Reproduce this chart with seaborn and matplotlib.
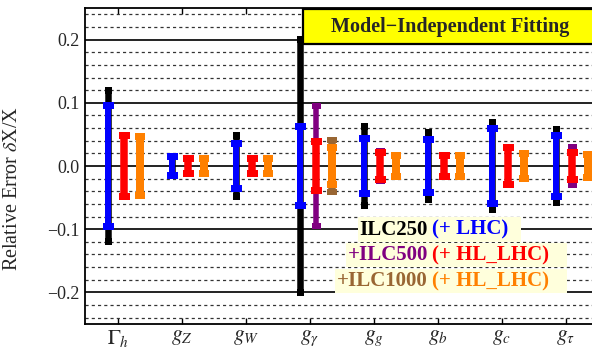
import numpy as np
import pandas as pd
import seaborn as sns
import matplotlib
matplotlib.use("Agg")
import matplotlib.pyplot as plt
from matplotlib.patches import Rectangle
from matplotlib.path import Path

# couplings on the x axis
params = [r"$\Gamma_h$", r"$g_Z$", r"$g_W$", r"$g_\gamma$",
          r"$g_g$", r"$g_b$", r"$g_c$", r"$g_\tau$"]

# relative errors (symmetric)
ilc250 = [0.119, 0.015, 0.049, 0.200, 0.063, 0.053, 0.069, 0.058]
ilc250_lhc = [0.095, 0.015, 0.036, 0.062, 0.044, 0.042, 0.059, 0.048]
ilc500 = [0.049, 0.012, 0.012, 0.095, 0.024, 0.017, 0.029, 0.029]
ilc500_hllhc = [0.049, 0.012, 0.012, 0.038, 0.022, 0.017, 0.029, 0.022]
ilc1000 = [0.047, 0.012, 0.012, 0.041, 0.017, 0.016, 0.020, 0.018]
ilc1000_hllhc = [0.047, 0.012, 0.012, 0.030, 0.017, 0.016, 0.020, 0.018]

yticks = [-0.2, -0.1, 0.0, 0.1, 0.2]
ytick_labels = ["\u22120.2", "\u22120.1", "0.0", "0.1", "0.2"]

title = "Model\u2212Independent Fitting"
legend_left = ["ILC250", "+ILC500", "+ILC1000"]
legend_right = ["(+ LHC)  ", "(+ HL_LHC)   ", "(+ HL_LHC)   "]

BLACK = "black"
BLUE = "#0000ff"
PURPLE = "#800080"
RED = "#ff0000"
BROWN = "#996633"
ORANGE = "#ff8000"

sns.set_theme(style="white")
plt.rcParams["font.family"] = ["Liberation Serif", "DejaVu Serif"]
plt.rcParams["mathtext.fontset"] = "stix"

fig = plt.figure(figsize=(5.92, 3.51), dpi=100)
ax = fig.add_axes([0.1436, 0.0769, 0.8666, 0.9003])

x = np.arange(len(params))
PX = 0.72  # points per pixel at dpi 100


def rect_marker(w, h):
    r = h / w
    return Path([(-1, -r), (1, -r), (1, r), (-1, r), (-1, -r)],
                [Path.MOVETO, Path.LINETO, Path.LINETO, Path.LINETO, Path.CLOSEPOLY])


# (values, colour, x offset, line px, cap w px, cap h px, zorder)
series = [
    (ilc250, BLACK, -0.15, 6.5, 7.5, 7, 3),
    (ilc250_lhc, BLUE, -0.15, 6, 10.5, 7, 4),
    (ilc500, PURPLE, 0.10, 5.5, 8.5, 6.5, 3),
    (ilc500_hllhc, RED, 0.10, 7.5, 10.5, 7, 4),
    (ilc1000, BROWN, 0.34, 7.5, 9.5, 6.5, 3),
    (ilc1000_hllhc, ORANGE, 0.34, 8, 10.5, 7, 4),
]

for vals, col, off, lw, cw, ch, z in series:
    v = np.array(vals)
    xs = x + off
    ax.vlines(xs, -v, v, color=col, lw=lw * PX, zorder=z)
    caps = pd.DataFrame({"x": np.concatenate([xs, xs]),
                         "y": np.concatenate([v, -v])})
    sns.scatterplot(data=caps, x="x", y="y", ax=ax, color=col,
                    marker=rect_marker(cw, ch), s=(cw * PX) ** 2,
                    edgecolor="none", linewidth=0, zorder=z + 0.5, legend=False)

ax.set_xlim(-0.516, 7.5)
ax.set_ylim(-0.25, 0.25)
ax.set_xticks(x)
ax.set_xticklabels(params, fontsize=15.5)
ax.set_yticks(yticks)
ax.set_yticklabels(ytick_labels, fontsize=13)
ax.set_yticks(np.arange(-0.24, 0.245, 0.02), minor=True)
ax.set_xlabel("")
ax.set_ylabel("Relative Error $\\delta$X/X", fontsize=14.5)
ax.yaxis.set_label_coords(-0.123, 0.43)

ax.set_axisbelow(True)
ax.grid(which="major", axis="y", color="#222222", lw=1.4, ls="-")
ax.grid(which="minor", axis="y", color="#333333", lw=0.9, ls=(0, (2.5, 2.5)))
ax.grid(which="both", axis="x", visible=False)
ax.tick_params(axis="x", which="major", direction="in", top=True, bottom=True,
               length=4, width=1, color="black", pad=3)
ax.tick_params(axis="y", which="both", length=0, pad=4)
for s in ax.spines.values():
    s.set_color("black")
    s.set_linewidth(1.3)

# title box
ax.add_patch(Rectangle((2.89, 0.193), 4.59, 0.0557, facecolor="#ffff00",
                       edgecolor="black", lw=1.6, zorder=10, clip_on=False))
ax.text(5.185, 0.2205, title, ha="center", va="center", fontsize=14.5,
        fontweight="bold", zorder=11)

# legend rows
row_y = [-0.1084, -0.1492, -0.1905]
left_cols = [BLACK, PURPLE, BROWN]
right_cols = [BLUE, RED, ORANGE]
bg = dict(boxstyle="square,pad=0.1", facecolor="#ffffdc", edgecolor="none")
for i in range(3):
    for txt, xx, ha, col in [(legend_left[i], 4.844, "right", left_cols[i]),
                             (legend_right[i], 4.91, "left", right_cols[i])]:
        ax.text(xx, row_y[i], txt, ha=ha, va="baseline", fontsize=15,
                fontweight="bold", color="none", bbox=bg, zorder=12)
        ax.text(xx, row_y[i], txt, ha=ha, va="baseline", fontsize=15,
                fontweight="bold", color=col, zorder=13)

fig.savefig("out.png", dpi=100)
